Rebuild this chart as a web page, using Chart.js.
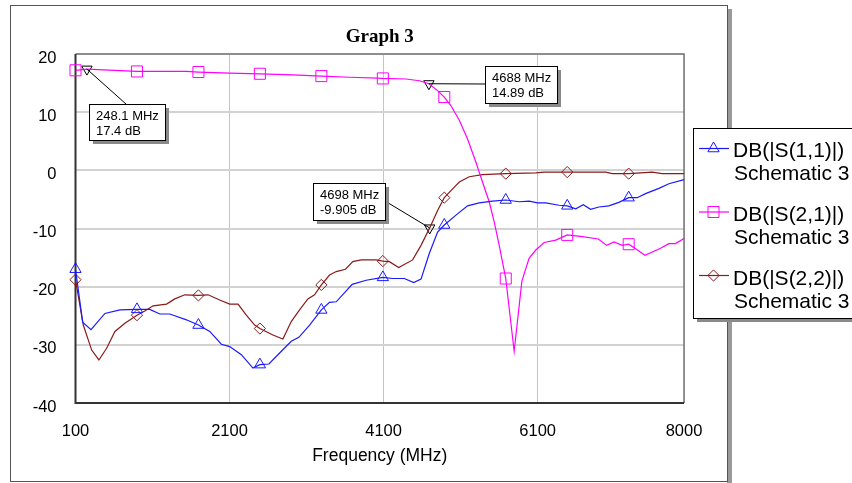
<!DOCTYPE html>
<html>
<head>
<meta charset="utf-8">
<script src="https://cdn.jsdelivr.net/npm/chart.js@4.4.1/dist/chart.umd.min.js"></script>
<style>
  html, body { margin: 0; padding: 0; background: #fff; }
  canvas { display: block; }
</style>
</head>
<body>
<canvas id="graph" width="852" height="483"></canvas>
<script>
// tick labels / marker positions (MHz)
const xTickLabels = [100, 2100, 4100, 6100, 8000];
const markerFreqs = [100, 898, 1696, 2494, 3292, 4090, 4888, 5686, 6484, 7282];

// DB(|S(1,1)|)
const s11Freq = [100, 193, 301, 482, 677, 898, 1065, 1195, 1324, 1540, 1696, 1843, 1994, 2102, 2253, 2404, 2494, 2611, 2750, 2901,
  3000, 3139, 3292, 3398, 3485, 3692, 3874, 4090, 4218, 4370, 4490, 4586, 4693, 4801, 4888, 5040, 5190, 5341, 5514, 5686,
  5860, 5990, 6097, 6206, 6378, 6484, 6595, 6692, 6787, 6895, 7024, 7154, 7282, 7392, 7501, 7674, 7804, 8000];
const s11Db = [-17.0, -26.1, -27.4, -24.6, -24.0, -23.9, -23.9, -24.7, -24.7, -25.7, -26.6, -27.7, -29.9, -30.3, -31.7, -34.0, -33.4, -33.3, -31.4, -29.4,
  -28.7, -26.6, -24.0, -22.7, -22.6, -19.6, -18.9, -18.4, -18.6, -18.6, -19.3, -18.7, -14.3, -10.6, -9.4, -7.7, -6.1, -5.6, -5.3, -5.1,
  -5.4, -5.3, -5.6, -5.6, -6.0, -6.1, -6.6, -5.9, -6.7, -6.3, -6.1, -5.5, -4.7, -4.7, -4.0, -3.1, -2.3, -1.6];

// DB(|S(2,1)|)
const s21Freq = [100, 248, 898, 1540, 1696, 2102, 2494, 2922, 3292, 3657, 4024, 4090, 4392, 4564, 4688, 4801, 4888, 4975, 5083, 5190,
  5299, 5341, 5384, 5471, 5536, 5601, 5686, 5795, 5895, 5946, 5990, 6076, 6184, 6335, 6484, 6680, 6888, 6997, 7091, 7199,
  7282, 7372, 7493, 7696, 7804, 7890, 8000];
const s21Db = [17.2, 17.4, 17.0, 17.0, 16.9, 16.7, 16.6, 16.4, 16.2, 16.0, 15.85, 15.8, 15.7, 15.4, 14.89, 13.7, 12.6, 11.1, 8.6, 5.4,
  1.4, -0.3, -2.0, -5.4, -8.85, -12.9, -18.6, -31.1, -19.1, -16.9, -15.1, -13.7, -12.4, -12.0, -11.1, -11.4, -11.8, -12.9, -12.3, -12.9,
  -12.7, -13.5, -14.6, -13.4, -12.6, -12.6, -11.7];

// DB(|S(2,2)|)
const s22Freq = [100, 201, 310, 404, 504, 612, 741, 898, 1000, 1108, 1282, 1389, 1519, 1696, 1821, 1972, 2102, 2210, 2318, 2426,
  2494, 2663, 2793, 2901, 3009, 3117, 3203, 3292, 3398, 3485, 3605, 3700, 3809, 4003, 4090, 4175, 4296, 4477, 4586, 4698,
  4801, 4888, 5040, 5083, 5212, 5384, 5686, 6076, 6184, 6484, 6983, 7069, 7282, 7587, 7717, 8000];
const s22Db = [-18.8, -26.6, -30.9, -32.6, -30.6, -27.7, -26.3, -24.9, -24.2, -23.3, -23.0, -22.1, -21.4, -21.5, -21.4, -22.3, -23.0, -23.0, -24.9, -26.6,
  -27.2, -28.3, -29.0, -26.0, -24.0, -22.1, -21.4, -19.7, -18.0, -17.4, -17.0, -15.7, -15.4, -15.4, -15.6, -15.7, -16.7, -15.4, -12.9, -9.905,
  -6.9, -4.7, -2.6, -2.0, -1.1, -0.74, -0.57, -0.45, -0.3, -0.3, -0.3, -0.57, -0.57, -0.3, -0.57, -0.57];

// cursor markers
const cursorFreq = [248.1, 4688, 4698];
const cursorDb = [17.4, 14.89, -9.905];

const seriesNames = ["DB(|S(1,1)|)", "DB(|S(2,1)|)", "DB(|S(2,2)|)"];
const schematicName = "Schematic 3";
const chartTitle = "Graph 3";
const xTitle = "Frequency (MHz)";

const colors = ["#1a1aff", "#ff00ff", "#8b1a1a"];
const styles = ["triangle", "rect", "rectRot"];
const radii = [6.5, 7.8, 5.6];

const toPoints = (fs, ds) => fs.map((f, i) => ({ x: f, y: ds[i] }));

function seriesDataset(idx, freq, db) {
  return {
    label: seriesNames[idx],
    data: toPoints(freq, db),
    borderColor: colors[idx],
    borderWidth: 1.2,
    tension: 0,
    clip: false,
    pointStyle: styles[idx],
    pointRadius: (c) => (c.raw && markerFreqs.includes(c.raw.x) ? radii[idx] : 0),
    pointBorderColor: colors[idx],
    pointBackgroundColor: "rgba(0,0,0,0)",
    pointBorderWidth: 1,
  };
}

// callout boxes for the cursor markers (layout only)
const noteBoxes = [
  { x: 89, y: 104, w: 76, h: 36, ax: 37, ay: 0 },
  { x: 485, y: 66, w: 72, h: 37, ax: 0, ay: 18 },
  { x: 313, y: 183, w: 72, h: 37, ax: 72, ay: 18 },
];

const sans = "'Liberation Sans', Arial, sans-serif";

const decorPlugin = {
  id: "decor",
  beforeDraw(chart) {
    const ctx = chart.ctx;
    ctx.save();
    ctx.fillStyle = "#fff";
    ctx.fillRect(0, 0, chart.width, chart.height);
    // outer frame with shadow
    ctx.fillStyle = "#9a9a9a";
    ctx.fillRect(727, 9, 5, 474);
    ctx.strokeStyle = "#555";
    ctx.lineWidth = 1;
    ctx.strokeRect(10.5, 5.5, 717, 476);
    ctx.restore();
  },
  beforeDatasetsDraw(chart) {
    const { ctx, chartArea: a } = chart;
    ctx.save();
    ctx.lineWidth = 1.5;
    ctx.strokeStyle = "#777";
    ctx.beginPath();
    ctx.moveTo(a.left, a.top);
    ctx.lineTo(a.right, a.top);
    ctx.lineTo(a.right, a.bottom);
    ctx.stroke();
    ctx.lineWidth = 2;
    ctx.strokeStyle = "#333";
    ctx.beginPath();
    ctx.moveTo(a.left, a.top);
    ctx.lineTo(a.left, a.bottom);
    ctx.lineTo(a.right, a.bottom);
    ctx.stroke();
    ctx.restore();
  },
  afterDraw(chart) {
    const { ctx, chartArea: a, scales } = chart;
    ctx.save();
    // title
    ctx.fillStyle = "#000";
    ctx.font = "bold 19px 'Liberation Serif', 'Times New Roman', serif";
    ctx.textAlign = "center";
    ctx.textBaseline = "alphabetic";
    ctx.fillText(chartTitle, (a.left + a.right) / 2, 42);

    // cursor callouts
    noteBoxes.forEach((b, i) => {
      const px = scales.x.getPixelForValue(cursorFreq[i]);
      const py = scales.y.getPixelForValue(cursorDb[i]);
      ctx.strokeStyle = "#000";
      ctx.lineWidth = 1;
      ctx.beginPath();
      ctx.moveTo(px, py);
      ctx.lineTo(b.x + b.ax, b.y + b.ay);
      ctx.stroke();
      ctx.fillStyle = "#8a8a8a";
      ctx.fillRect(b.x + 4, b.y + 4, b.w, b.h);
      ctx.fillStyle = "#fff";
      ctx.fillRect(b.x, b.y, b.w, b.h);
      ctx.strokeRect(b.x + 0.5, b.y + 0.5, b.w, b.h);
      ctx.fillStyle = "#000";
      ctx.font = "13px " + sans;
      ctx.textAlign = "left";
      ctx.fillText(cursorFreq[i] + " MHz", b.x + 7, b.y + 16);
      ctx.fillText(cursorDb[i] + " dB", b.x + 7, b.y + 31);
    });

    // legend
    const lx = 693, ly = 128, lw = 170, lh = 190;
    ctx.fillStyle = "#8a8a8a";
    ctx.fillRect(lx + 4, ly + 4, lw, lh);
    ctx.fillStyle = "#fff";
    ctx.fillRect(lx, ly, lw, lh);
    ctx.strokeStyle = "#000";
    ctx.lineWidth = 1;
    ctx.strokeRect(lx + 0.5, ly + 0.5, lw, lh);
    seriesNames.forEach((name, i) => {
      const y = 148.5 + i * 63.5;
      const col = colors[i];
      ctx.strokeStyle = col;
      ctx.lineWidth = 1.2;
      ctx.beginPath();
      ctx.moveTo(699, y);
      ctx.lineTo(729, y);
      ctx.stroke();
      ctx.lineWidth = 1;
      ctx.beginPath();
      const cx = 713.5, r = radii[i];
      if (styles[i] === "triangle") {
        ctx.moveTo(cx, y - r);
        ctx.lineTo(cx + r * 0.866, y + r * 0.5);
        ctx.lineTo(cx - r * 0.866, y + r * 0.5);
        ctx.closePath();
      } else if (styles[i] === "rect") {
        const s = r * Math.SQRT1_2;
        ctx.rect(cx - s, y - s, 2 * s, 2 * s);
      } else {
        ctx.moveTo(cx - r, y);
        ctx.lineTo(cx, y - r);
        ctx.lineTo(cx + r, y);
        ctx.lineTo(cx, y + r);
        ctx.closePath();
      }
      ctx.stroke();
      ctx.fillStyle = "#000";
      ctx.font = "21px " + sans;
      ctx.textAlign = "left";
      ctx.fillText(name, 733, 157 + i * 64);
      ctx.fillText(schematicName, 734, 180 + i * 64);
    });
    ctx.restore();
  },
};

const ctx = document.getElementById("graph").getContext("2d");
new Chart(ctx, {
  type: "line",
  data: {
    datasets: [
      seriesDataset(0, s11Freq, s11Db),
      seriesDataset(1, s21Freq, s21Db),
      seriesDataset(2, s22Freq, s22Db),
      {
        label: "cursor",
        data: toPoints(cursorFreq, cursorDb),
        showLine: false,
        clip: false,
        pointStyle: "triangle",
        pointRotation: 180,
        pointRadius: 6,
        pointBorderColor: "#000",
        pointBackgroundColor: "rgba(0,0,0,0)",
        pointBorderWidth: 1,
      },
    ],
  },
  options: {
    responsive: false,
    animation: false,
    events: [],
    layout: { padding: { top: 54, right: 168, left: 0, bottom: 0 } },
    plugins: {
      legend: { display: false },
      title: { display: false },
      tooltip: { enabled: false },
    },
    scales: {
      x: {
        type: "linear",
        min: 100,
        max: 8000,
        afterBuildTicks: (s) => { s.ticks = xTickLabels.map((v) => ({ value: v })); },
        afterFit: (s) => { s.height = 80; },
        grid: { color: "#c4c4c4", lineWidth: 1, drawTicks: false },
        border: { display: false },
        ticks: {
          padding: 19,
          maxRotation: 0,
          autoSkip: false,
          color: "#000",
          font: { family: sans, size: 16.5 },
          callback: (v) => String(v),
        },
        title: {
          display: true,
          text: xTitle,
          color: "#000",
          font: { family: sans, size: 17.5 },
          padding: { top: 0, bottom: 16 },
        },
      },
      y: {
        min: -40,
        max: 20,
        afterFit: (s) => { s.width = 75.5; },
        grid: { color: "#d2d2d2", lineWidth: 2, drawTicks: false },
        border: { display: false },
        ticks: {
          stepSize: 10,
          padding: 19,
          labelOffset: 4,
          color: "#000",
          font: { family: sans, size: 16.5 },
        },
      },
    },
  },
  plugins: [decorPlugin],
});
</script>
</body>
</html>
